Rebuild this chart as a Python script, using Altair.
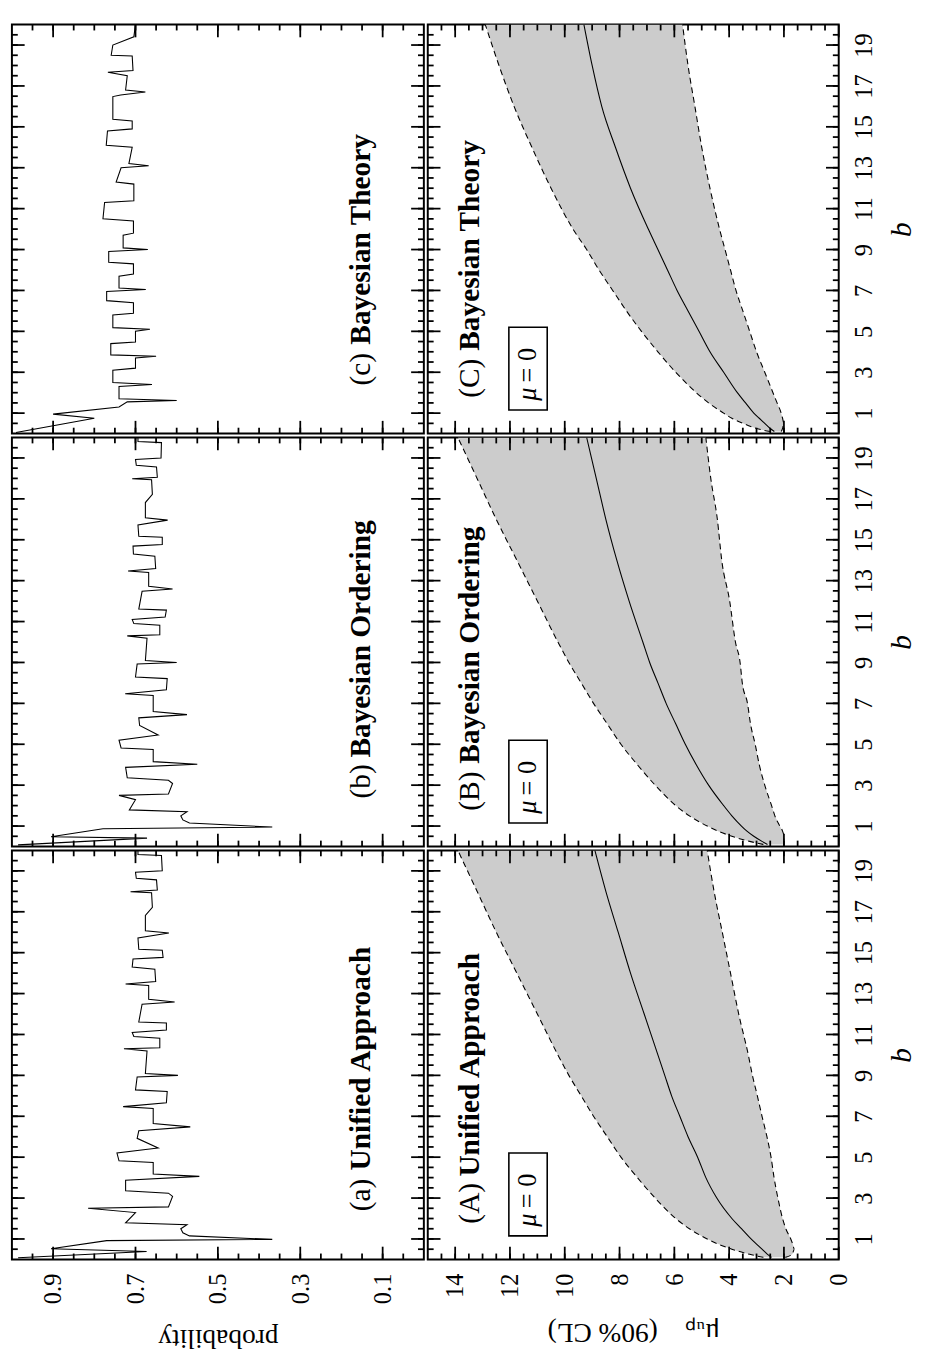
import altair as alt
import pandas as pd

FONT = "Liberation Serif"

# ---------------- probability panels: (b, probability) ----------------
PA_B = [0.08, 0.39, 0.52, 0.92, 0.98, 1.15, 1.30, 1.50, 1.70, 1.79, 2.29, 2.50, 2.57, 3.08, 3.24, 3.36,
        3.87, 4.06, 4.18, 4.74, 4.82, 5.20, 5.45, 5.92, 6.29, 6.48, 6.64, 7.38, 7.47, 7.66, 8.21, 8.29,
        8.92, 9.00, 9.09, 10.19, 10.30, 10.35, 10.82, 10.90, 11.10, 11.22, 11.56, 11.61, 12.48, 12.59,
        12.72, 13.40, 13.47, 13.59, 14.19, 14.30, 14.69, 14.77, 15.12, 15.17, 15.72, 15.96, 16.07, 16.82,
        17.22, 17.93, 17.98, 18.06, 18.56, 18.64, 18.93, 19.00, 19.75, 19.80, 20.00]
PA_P = [0.985, 0.673, 0.905, 0.770, 0.368, 0.569, 0.585, 0.590, 0.575, 0.724, 0.700, 0.815, 0.620, 0.610,
        0.620, 0.724, 0.724, 0.545, 0.657, 0.657, 0.740, 0.745, 0.645, 0.696, 0.692, 0.567, 0.657, 0.657,
        0.730, 0.625, 0.623, 0.700, 0.696, 0.597, 0.676, 0.672, 0.728, 0.641, 0.641, 0.704, 0.708, 0.625,
        0.625, 0.692, 0.684, 0.605, 0.668, 0.668, 0.724, 0.651, 0.653, 0.708, 0.706, 0.633, 0.635, 0.692,
        0.694, 0.619, 0.676, 0.676, 0.659, 0.661, 0.712, 0.647, 0.649, 0.698, 0.700, 0.635, 0.637, 0.694,
        0.694]

PB_B = [0.08, 0.41, 0.48, 0.87, 0.95, 1.15, 1.30, 1.50, 1.70, 1.79, 2.29, 2.50, 2.57, 3.08, 3.24, 3.36,
        3.87, 4.02, 4.15, 4.74, 4.82, 5.20, 5.45, 5.92, 6.29, 6.45, 6.60, 7.38, 7.47, 7.66, 8.21, 8.29,
        8.92, 9.00, 9.09, 10.19, 10.30, 10.35, 10.82, 10.90, 11.10, 11.22, 11.56, 11.61, 12.48, 12.59,
        12.72, 13.40, 13.47, 13.59, 14.19, 14.30, 14.69, 14.77, 15.12, 15.17, 15.72, 15.96, 16.07, 16.82,
        17.22, 17.93, 17.98, 18.06, 18.56, 18.64, 18.93, 19.00, 19.75, 19.80, 20.00]
PB_P = [0.985, 0.672, 0.905, 0.779, 0.368, 0.569, 0.585, 0.590, 0.575, 0.715, 0.700, 0.740, 0.620, 0.610,
        0.620, 0.720, 0.724, 0.550, 0.657, 0.657, 0.735, 0.740, 0.645, 0.690, 0.692, 0.575, 0.657, 0.657,
        0.725, 0.625, 0.623, 0.700, 0.696, 0.600, 0.676, 0.672, 0.720, 0.641, 0.641, 0.704, 0.708, 0.628,
        0.625, 0.692, 0.684, 0.610, 0.668, 0.668, 0.718, 0.651, 0.653, 0.705, 0.706, 0.635, 0.635, 0.692,
        0.694, 0.622, 0.676, 0.676, 0.659, 0.661, 0.708, 0.647, 0.649, 0.698, 0.700, 0.638, 0.637, 0.694,
        0.694]

PC_B = [0.05, 0.75, 0.95, 1.30, 1.55, 1.62, 1.70, 2.30, 2.40, 2.50, 3.10, 3.20, 3.70, 3.78, 3.85, 4.40,
        4.48, 5.00, 5.10, 5.18, 5.80, 5.88, 6.40, 6.50, 6.95, 7.05, 7.12, 7.70, 7.80, 8.30, 8.38, 8.90,
        9.00, 9.08, 9.70, 9.80, 10.40, 10.50, 11.30, 11.38, 12.20, 12.30, 13.00, 13.10, 13.20, 14.00,
        14.10, 14.80, 14.90, 15.29, 15.37, 16.48, 16.56, 16.70, 16.80, 17.50, 17.67, 17.75, 18.46, 18.50,
        19.00, 19.40, 20.00]
PC_P = [0.990, 0.800, 0.900, 0.740, 0.720, 0.600, 0.740, 0.740, 0.660, 0.755, 0.755, 0.700, 0.700, 0.650,
        0.760, 0.760, 0.700, 0.700, 0.665, 0.755, 0.755, 0.705, 0.705, 0.770, 0.770, 0.675, 0.740, 0.740,
        0.705, 0.705, 0.765, 0.765, 0.670, 0.730, 0.730, 0.705, 0.705, 0.779, 0.775, 0.704, 0.704, 0.747,
        0.735, 0.668, 0.716, 0.708, 0.771, 0.768, 0.708, 0.708, 0.755, 0.755, 0.736, 0.676, 0.724, 0.720,
        0.767, 0.706, 0.708, 0.759, 0.755, 0.704, 0.700]

# ---------------- mu_up bands (90% CL) ----------------
BAND_B = [0.1, 0.25, 0.5, 0.75, 1, 1.5, 2, 3, 4, 5, 6, 7, 8, 9, 10, 12, 14, 16, 18, 20]

A_LO = [1.95, 1.70, 1.62, 1.68, 1.75, 1.93, 2.05, 2.22, 2.36, 2.47, 2.62, 2.80, 2.97, 3.15, 3.30, 3.65, 3.95, 4.25, 4.55, 4.80]
A_MID = [2.45, 2.60, 2.80, 3.00, 3.20, 3.55, 3.90, 4.45, 4.85, 5.15, 5.50, 5.80, 6.10, 6.35, 6.60, 7.10, 7.60, 8.05, 8.50, 8.90]
A_HI = [2.75, 3.25, 3.90, 4.40, 4.80, 5.45, 5.95, 6.70, 7.35, 7.95, 8.45, 8.95, 9.40, 9.85, 10.25, 11.00, 11.75, 12.50, 13.20, 13.90]

B_LO = [2.00, 2.00, 2.00, 2.05, 2.15, 2.33, 2.45, 2.70, 2.90, 3.05, 3.22, 3.33, 3.52, 3.60, 3.77, 3.98, 4.27, 4.43, 4.67, 4.85]
B_MID = [2.60, 2.80, 3.10, 3.35, 3.55, 3.90, 4.20, 4.75, 5.20, 5.60, 5.95, 6.30, 6.60, 6.90, 7.15, 7.65, 8.10, 8.50, 8.85, 9.20]
B_HI = [2.75, 3.25, 3.90, 4.40, 4.80, 5.45, 5.95, 6.70, 7.35, 7.95, 8.45, 8.95, 9.40, 9.85, 10.25, 11.00, 11.75, 12.50, 13.20, 13.90]

C_LO = [2.10, 2.05, 2.00, 2.05, 2.10, 2.25, 2.40, 2.70, 3.00, 3.25, 3.50, 3.75, 3.95, 4.15, 4.35, 4.70, 5.00, 5.25, 5.50, 5.70]
C_MID = [2.35, 2.50, 2.70, 2.90, 3.10, 3.40, 3.70, 4.20, 4.70, 5.10, 5.50, 5.90, 6.25, 6.60, 6.95, 7.60, 8.15, 8.65, 9.00, 9.30]
C_HI = [2.50, 3.00, 3.50, 3.90, 4.20, 4.75, 5.20, 5.95, 6.60, 7.20, 7.75, 8.25, 8.75, 9.20, 9.70, 10.50, 11.20, 11.85, 12.40, 12.90]

# ---------------- labels ----------------
PROB_TAGS = ["(c)", "(b)", "(a)"]
MU_TAGS = ["(C)", "(B)", "(A)"]
METHODS = ["Bayesian Theory", "Bayesian Ordering", "Unified Approach"]
P_TAG_B, P_NAME_B = 2.35, 4.35      # b where tag / bold name start (probability panels)
M_TAG_B, M_NAME_B = 1.75, 4.05      # same for the mu panels
PROB_LABEL_AT = 0.153
MU_LABEL_AT = 13.45
BOX_MU = [10.64, 12.04]
BOX_B = [1.15, 5.2]
MU_TITLE = "μᵤₚ\u00a0\u00a0\u00a0\u00a0(90%\u00a0CL)"

PROB_MAJOR = [0.1, 0.3, 0.5, 0.7, 0.9]
PROB_MINOR = [round(0.05 * i, 2) for i in range(1, 20)]
MU_MAJOR = [0, 2, 4, 6, 8, 10, 12, 14]
MU_MINOR = [0.5 * i for i in range(1, 30)]
B_MAJOR = [1, 3, 5, 7, 9, 11, 13, 15, 17, 19]
B_MINOR = [0.5 * i for i in range(1, 40)]

W_P, W_M, H = 421, 420, 418
T_MAJ, T_MIN = 13, 6
GRAY = "#cccccc"
LBL = 30

yscale = alt.Scale(domain=[0, 20], nice=False, zero=False)
pscale = alt.Scale(domain=[0, 1], reverse=True, nice=False, zero=False)
mscale = alt.Scale(domain=[0, 15], reverse=True, nice=False, zero=False)


def x_axis(kind, show):
    if not show:
        return None
    common = dict(labelAngle=270, labelAlign="right", labelBaseline="middle", ticks=False, domain=False,
                  grid=False, labelPadding=14, labelFont=FONT, labelFontSize=25, labelColor="black",
                  labelFlush=False, titleAngle=180, titleBaseline="bottom", titleFont=FONT, titleFontSize=28,
                  titleFontWeight="normal", titleColor="black", titlePadding=20)
    if kind == "p":
        return alt.Axis(values=PROB_MAJOR, format=".1f", title="probability", **common)
    return alt.Axis(values=MU_MAJOR, format="d", title=MU_TITLE, **common)


def y_axis(show):
    if not show:
        return None
    return alt.Axis(orient="right", values=B_MAJOR, format="d", labelAngle=270, labelAlign="center",
                    labelBaseline="top", ticks=False, domain=False, grid=False, labelPadding=14,
                    labelFont=FONT, labelFontSize=25, labelColor="black", labelFlush=False,
                    title="b", titleAngle=270, titleBaseline="top", titleFont=FONT, titleFontSize=30,
                    titleFontStyle="italic", titleFontWeight="normal", titleColor="black", titlePadding=10)


def panel(kind, show_x, show_y, layers_fn):
    xs = pscale if kind == "p" else mscale
    xa = x_axis(kind, show_x)
    ya = y_axis(show_y)
    W = W_P if kind == "p" else W_M

    def X(field):
        return alt.X(field, scale=xs, axis=xa, title=None if xa is None else xa.title)

    def Y(field):
        return alt.Y(field, scale=yscale, axis=ya, title=None if ya is None else ya.title)

    layers = layers_fn(X, Y)
    for vals, L in ((B_MAJOR, T_MAJ), (B_MINOR, T_MIN)):
        base = alt.Chart(pd.DataFrame({"b": vals})).mark_rule(color="black", strokeWidth=1.8)
        layers.append(base.encode(y=Y("b:Q"), x=alt.value(0), x2=alt.value(L)))
        layers.append(base.encode(y=Y("b:Q"), x=alt.value(W), x2=alt.value(W - L)))
    vmaj, vmin = (PROB_MAJOR, PROB_MINOR) if kind == "p" else (MU_MAJOR, MU_MINOR)
    for vals, L in ((vmaj, T_MAJ), (vmin, T_MIN)):
        base = alt.Chart(pd.DataFrame({"v": vals})).mark_rule(color="black", strokeWidth=1.8)
        layers.append(base.encode(x=X("v:Q"), y=alt.value(H), y2=alt.value(H - L)))
        layers.append(base.encode(x=X("v:Q"), y=alt.value(0), y2=alt.value(L)))
    return alt.layer(*layers).properties(width=W, height=H)


def label_layers(X, Y, at, tag_b, name_b, tag, name):
    t1 = alt.Chart(pd.DataFrame({"b": [tag_b], "v": [at], "t": [tag]})).mark_text(
        angle=270, align="left", baseline="middle", font=FONT, fontSize=LBL, color="black").encode(
        x=X("v:Q"), y=Y("b:Q"), text="t:N")
    t2 = alt.Chart(pd.DataFrame({"b": [name_b], "v": [at], "t": [name]})).mark_text(
        angle=270, align="left", baseline="middle", font=FONT, fontSize=LBL, fontWeight="bold",
        color="black").encode(x=X("v:Q"), y=Y("b:Q"), text="t:N")
    return [t1, t2]


def prob_layers(bs, ps, tag, name):
    def fn(X, Y):
        df = pd.DataFrame({"b": bs, "p": ps, "i": list(range(len(bs)))})
        line = alt.Chart(df).mark_line(color="black", strokeWidth=1.1, clip=True).encode(
            x=X("p:Q"), y=Y("b:Q"), order="i:Q")
        return [line] + label_layers(X, Y, PROB_LABEL_AT, P_TAG_B, P_NAME_B, tag, name)
    return fn


def mu_layers(lo, mid, hi, tag, name):
    def fn(X, Y):
        df = pd.DataFrame({"b": BAND_B, "lo": lo, "mid": mid, "hi": hi, "i": list(range(len(BAND_B)))})
        area = alt.Chart(df).mark_area(orient="horizontal", color=GRAY, opacity=1, clip=True,
                                       interpolate="monotone").encode(
            y=Y("b:Q"), x=X("lo:Q"), x2="hi:Q")
        dash = dict(color="black", strokeWidth=1.1, strokeDash=[6, 4], clip=True, interpolate="monotone")
        dlo = alt.Chart(df).mark_line(**dash).encode(x=X("lo:Q"), y=Y("b:Q"), order="i:Q")
        dhi = alt.Chart(df).mark_line(**dash).encode(x=X("hi:Q"), y=Y("b:Q"), order="i:Q")
        dmid = alt.Chart(df).mark_line(color="black", strokeWidth=1.1, clip=True, interpolate="monotone").encode(
            x=X("mid:Q"), y=Y("b:Q"), order="i:Q")
        box = alt.Chart(pd.DataFrame({"m1": [BOX_MU[0]], "m2": [BOX_MU[1]], "b1": [BOX_B[0]], "b2": [BOX_B[1]]})).mark_rect(
            fill="white", stroke="black", strokeWidth=1.6).encode(x=X("m1:Q"), x2="m2:Q", y=Y("b1:Q"), y2="b2:Q")
        mid_mu = (BOX_MU[0] + BOX_MU[1]) / 2
        tmu = alt.Chart(pd.DataFrame({"m": [mid_mu], "b": [BOX_B[0] + 0.45], "t": ["μ"]})).mark_text(
            angle=270, align="left", baseline="middle", font=FONT, fontSize=27, fontStyle="italic",
            color="black").encode(x=X("m:Q"), y=Y("b:Q"), text="t:N")
        teq = alt.Chart(pd.DataFrame({"m": [mid_mu], "b": [BOX_B[0] + 1.35], "t": ["= 0"]})).mark_text(
            angle=270, align="left", baseline="middle", font=FONT, fontSize=27,
            color="black").encode(x=X("m:Q"), y=Y("b:Q"), text="t:N")
        return [area, dlo, dhi, dmid, box, tmu, teq] + label_layers(X, Y, MU_LABEL_AT, M_TAG_B, M_NAME_B, tag, name)
    return fn


prob_data = [(PC_B, PC_P), (PB_B, PB_P), (PA_B, PA_P)]
mu_data = [(C_LO, C_MID, C_HI), (B_LO, B_MID, B_HI), (A_LO, A_MID, A_HI)]

rows = []
for r in range(3):
    last = r == 2
    left = panel("p", last, False, prob_layers(prob_data[r][0], prob_data[r][1], PROB_TAGS[r], METHODS[r]))
    right = panel("m", last, True, mu_layers(*mu_data[r], MU_TAGS[r], METHODS[r]))
    rows.append(alt.hconcat(left, right, spacing=0))

chart = alt.vconcat(*rows, spacing=0).properties(
    padding={"left": 2, "top": 0, "right": 0, "bottom": 0}
).configure_view(stroke="black", strokeWidth=2)

chart.save("out.html", embed_options={"renderer": "svg", "actions": False})
